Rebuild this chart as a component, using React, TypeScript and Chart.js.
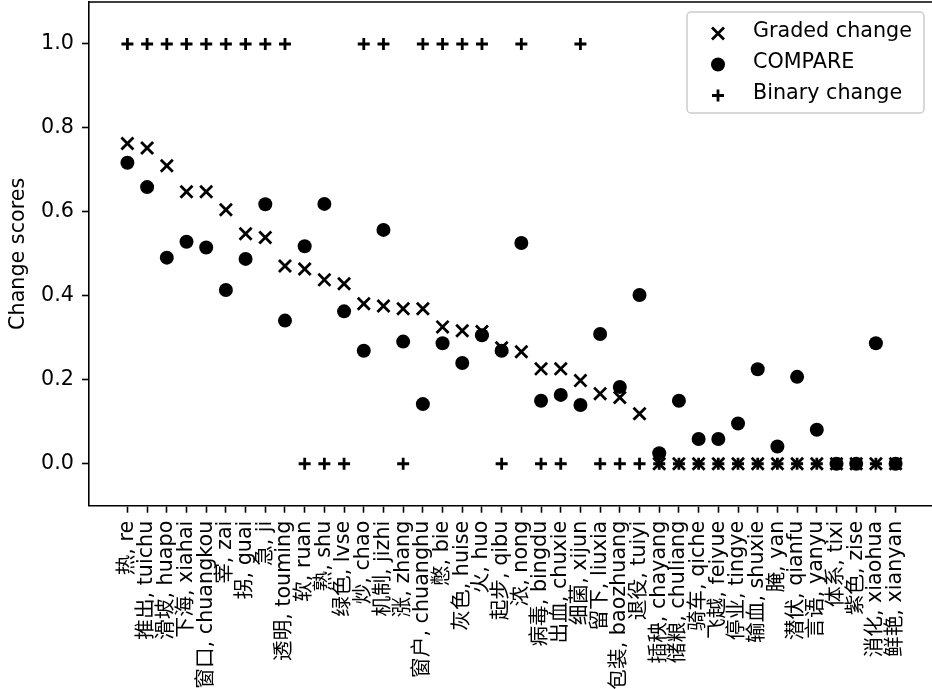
import React, { useEffect, useRef } from "react";
import { Chart, registerables } from "chart.js";

Chart.register(...registerables);

const categories = [
  "热, re", "推出, tuichu", "滑坡, huapo", "下海, xiahai", "窗口, chuangkou",
  "宰, zai", "拐, guai", "急, ji", "透明, touming", "软, ruan",
  "熟, shu", "绿色, lvse", "炒, chao", "机制, jizhi", "涨, zhang",
  "窗户, chuanghu", "憋, bie", "灰色, huise", "火, huo", "起步, qibu",
  "浓, nong", "病毒, bingdu", "出血, chuxie", "细菌, xijun", "留下, liuxia",
  "包装, baozhuang", "退役, tuiyi", "插秧, chayang", "储粮, chuliang", "骑车, qiche",
  "飞越, feiyue", "停业, tingye", "输血, shuxie", "腌, yan", "潜伏, qianfu",
  "言语, yanyu", "体系, tixi", "紫色, zise", "消化, xiaohua", "鲜艳, xianyan",
];

const gradedChange = [
  0.763, 0.752, 0.71, 0.648, 0.648, 0.605, 0.548, 0.539, 0.471, 0.464,
  0.438, 0.429, 0.381, 0.376, 0.369, 0.369, 0.326, 0.317, 0.315, 0.276,
  0.267, 0.226, 0.226, 0.198, 0.167, 0.158, 0.119, 0, 0, 0,
  0, 0, 0, 0, 0, 0, 0, 0, 0, 0,
];

const compareScores = [
  0.717, 0.659, 0.491, 0.529, 0.515, 0.414, 0.488, 0.618, 0.341, 0.518,
  0.619, 0.363, 0.269, 0.557, 0.291, 0.142, 0.287, 0.24, 0.306, 0.269,
  0.526, 0.15, 0.164, 0.14, 0.309, 0.183, 0.402, 0.025, 0.15, 0.059,
  0.059, 0.096, 0.225, 0.041, 0.207, 0.081, 0, 0, 0.287, 0,
];

const binaryChange = [
  1, 1, 1, 1, 1, 1, 1, 1, 1, 0,
  0, 0, 1, 1, 0, 1, 1, 1, 1, 0,
  1, 0, 0, 1, 0, 0, 0, 0, 0, 0,
  0, 0, 0, 0, 0, 0, 0, 0, 0, 0,
];

const yTicks = [0, 0.2, 0.4, 0.6, 0.8, 1.0];
const seriesNames = ["Graded change", "COMPARE", "Binary change"];

const FONT = "'DejaVu Sans', 'Noto Sans CJK SC', sans-serif";
const FS = 20.7;

const toPoints = (arr: number[]) => arr.map((v, i) => ({ x: i, y: v }));

function drawMarker(ctx: CanvasRenderingContext2D, style: string, x: number, y: number) {
  ctx.save();
  ctx.fillStyle = "#000";
  ctx.strokeStyle = "#000";
  ctx.lineWidth = 2.8;
  ctx.lineCap = "butt";
  if (style === "circle") {
    ctx.beginPath();
    ctx.arc(x, y, 7, 0, Math.PI * 2);
    ctx.fill();
  } else if (style === "crossRot") {
    const d = 6;
    ctx.beginPath();
    ctx.moveTo(x - d, y - d);
    ctx.lineTo(x + d, y + d);
    ctx.moveTo(x - d, y + d);
    ctx.lineTo(x + d, y - d);
    ctx.stroke();
  } else {
    const d = 6;
    ctx.beginPath();
    ctx.moveTo(x - d, y);
    ctx.lineTo(x + d, y);
    ctx.moveTo(x, y - d);
    ctx.lineTo(x, y + d);
    ctx.stroke();
  }
  ctx.restore();
}

const framePlugin = {
  id: "frame",
  afterDatasetsDraw(chart: any) {
    const { ctx, chartArea } = chart;
    ctx.save();
    ctx.strokeStyle = "#000";
    ctx.lineWidth = 1.6;
    ctx.beginPath();
    ctx.moveTo(chartArea.left, chartArea.top);
    ctx.lineTo(chartArea.right, chartArea.top);
    ctx.lineTo(chartArea.right, chartArea.bottom);
    ctx.stroke();
    ctx.restore();
  },
};

const legendPlugin = {
  id: "innerLegend",
  afterDraw(chart: any) {
    const { ctx, chartArea } = chart;
    const w = 237;
    const h = 101;
    const right = chartArea.right - 10;
    const left = right - w;
    const top = chartArea.top + 10;
    ctx.save();
    ctx.beginPath();
    ctx.roundRect(left, top, w, h, 4);
    ctx.fillStyle = "rgba(255,255,255,0.8)";
    ctx.fill();
    ctx.strokeStyle = "#cccccc";
    ctx.lineWidth = 1.5;
    ctx.stroke();
    const styles = ["crossRot", "circle", "cross"];
    ctx.font = `${FS}px ${FONT}`;
    ctx.fillStyle = "#000";
    ctx.textAlign = "left";
    ctx.textBaseline = "middle";
    seriesNames.forEach((name, i) => {
      const cy = top + 20 + i * 31;
      drawMarker(ctx, styles[i], left + 31, cy + 1.5);
      ctx.fillStyle = "#000";
      ctx.fillText(name, left + 66, cy);
    });
    ctx.restore();
  },
};

export default function App() {
  const canvasRef = useRef<HTMLCanvasElement | null>(null);

  useEffect(() => {
    const canvas = canvasRef.current;
    if (!canvas) return;
    const chart = new Chart(canvas, {
      type: "scatter",
      data: {
        datasets: [
          {
            label: seriesNames[0],
            data: toPoints(gradedChange),
            pointStyle: "crossRot",
            pointRadius: 8.5,
            pointBorderWidth: 2.8,
            borderColor: "#000",
            backgroundColor: "#000",
            order: 3,
          },
          {
            label: seriesNames[1],
            data: toPoints(compareScores),
            pointStyle: "circle",
            pointRadius: 7,
            pointBorderWidth: 0,
            borderColor: "#000",
            backgroundColor: "#000",
            order: 2,
          },
          {
            label: seriesNames[2],
            data: toPoints(binaryChange),
            pointStyle: "cross",
            pointRadius: 6,
            pointBorderWidth: 2.8,
            borderColor: "#000",
            backgroundColor: "#000",
            order: 1,
          },
        ],
      },
      options: {
        responsive: false,
        animation: false,
        devicePixelRatio: 1,
        layout: { autoPadding: false, padding: { top: 2, right: 0, left: 0, bottom: 0 } },
        plugins: {
          legend: { display: false },
          tooltip: { enabled: false },
        },
        scales: {
          x: {
            type: "linear",
            min: -1.95,
            max: 40.95,
            afterBuildTicks: (s: any) => {
              s.ticks = categories.map((_, i) => ({ value: i }));
            },
            afterFit: (s: any) => {
              s.height = 689 - 505.7;
              s.paddingLeft = 0;
              s.paddingRight = 0;
            },
            ticks: {
              autoSkip: false,
              minRotation: 90,
              maxRotation: 90,
              padding: 8,
              color: "#000",
              font: { family: FONT, size: FS },
              callback: (v: any) => categories[v] ?? "",
            },
            grid: {
              drawOnChartArea: false,
              drawTicks: true,
              tickLength: 7,
              tickWidth: 1.6,
              tickColor: "#000",
            },
            border: { display: true, color: "#000", width: 1.6 },
          },
          y: {
            type: "linear",
            min: -0.1,
            max: 1.1,
            afterBuildTicks: (s: any) => {
              s.ticks = yTicks.map((v) => ({ value: v }));
            },
            afterFit: (s: any) => {
              s.width = 89;
              s.paddingTop = 0;
              s.paddingBottom = 0;
            },
            ticks: {
              padding: 8,
              color: "#000",
              font: { family: FONT, size: FS },
              callback: (v: any) => Number(v).toFixed(1),
            },
            grid: {
              drawOnChartArea: false,
              drawTicks: true,
              tickLength: 7,
              tickWidth: 1.6,
              tickColor: "#000",
            },
            border: { display: true, color: "#000", width: 1.6 },
            title: {
              display: true,
              text: "Change scores",
              color: "#000",
              font: { family: FONT, size: FS },
              padding: { top: 6, bottom: 4 },
            },
          },
        },
      },
      plugins: [framePlugin, legendPlugin],
    } as any);
    return () => chart.destroy();
  }, []);

  return (
    <div
      style={{
        position: "fixed",
        left: 0,
        top: 0,
        width: 932,
        height: 689,
        overflow: "hidden",
        background: "#fff",
      }}
    >
      <canvas
        ref={canvasRef}
        width={934}
        height={689}
        style={{ display: "block", width: 934, height: 689 }}
      />
    </div>
  );
}
